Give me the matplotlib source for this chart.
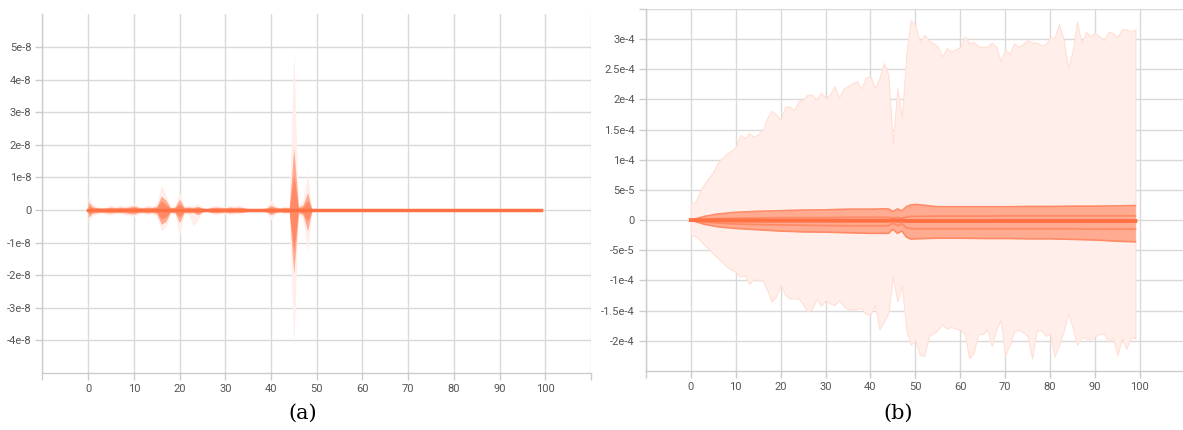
import numpy as np
import matplotlib
matplotlib.use('Agg')
import matplotlib.pyplot as plt

# ---- panel (a): per-step percentiles, units of 1e-8 ----
UNIT_A = 1e-8
steps_a = list(range(50)) + [99]
a_max = [0.45, 0.18, 0.10, 0.08, 0.10, 0.15, 0.10, 0.15, 0.12, 0.15,
         0.20, 0.12, 0.10, 0.15, 0.12, 0.20, 0.77, 0.48, 0.10, 0.15,
         0.55, 0.12, 0.15, 0.12, 0.20, 0.08, 0.05, 0.12, 0.15, 0.12,
         0.10, 0.15, 0.12, 0.15, 0.10, 0.05, 0.03, 0.03, 0.05, 0.08,
         0.30, 0.12, 0.08, 0.12, 0.10, 4.86, 0.15, 0.30, 1.15, 0.0, 0.0]
a_p93 = [0.25, 0.10, 0.07, 0.06, 0.07, 0.09, 0.07, 0.09, 0.08, 0.09,
         0.13, 0.08, 0.07, 0.09, 0.08, 0.11, 0.43, 0.30, 0.07, 0.09,
         0.33, 0.08, 0.09, 0.08, 0.11, 0.06, 0.04, 0.08, 0.09, 0.08,
         0.07, 0.09, 0.08, 0.09, 0.07, 0.04, 0.03, 0.03, 0.04, 0.06,
         0.15, 0.08, 0.06, 0.08, 0.07, 1.91, 0.09, 0.15, 0.53, 0.0, 0.0]
a_p84 = [0.14, 0.06, 0.05, 0.04, 0.05, 0.06, 0.05, 0.06, 0.05, 0.06,
         0.08, 0.05, 0.05, 0.06, 0.05, 0.07, 0.28, 0.17, 0.05, 0.06,
         0.20, 0.05, 0.06, 0.05, 0.07, 0.04, 0.03, 0.05, 0.06, 0.05,
         0.05, 0.06, 0.05, 0.06, 0.05, 0.03, 0.02, 0.02, 0.03, 0.04,
         0.09, 0.05, 0.04, 0.05, 0.04, 1.09, 0.05, 0.09, 0.30, 0.0, 0.0]
a_p16 = [-0.12, -0.06, -0.05, -0.04, -0.05, -0.06, -0.05, -0.05, -0.05, -0.06,
         -0.08, -0.05, -0.05, -0.06, -0.05, -0.07, -0.28, -0.22, -0.05, -0.06,
         -0.22, -0.05, -0.06, -0.05, -0.09, -0.04, -0.03, -0.05, -0.06, -0.05,
         -0.05, -0.06, -0.05, -0.05, -0.05, -0.03, -0.02, -0.02, -0.03, -0.04,
         -0.09, -0.05, -0.04, -0.05, -0.04, -1.26, -0.05, -0.09, -0.35, 0.0, 0.0]
a_p7 = [-0.22, -0.10, -0.08, -0.07, -0.09, -0.09, -0.08, -0.08, -0.09, -0.11,
        -0.13, -0.08, -0.08, -0.09, -0.08, -0.11, -0.44, -0.35, -0.07, -0.09,
        -0.39, -0.08, -0.09, -0.08, -0.15, -0.06, -0.04, -0.08, -0.09, -0.08,
        -0.07, -0.09, -0.08, -0.08, -0.07, -0.04, -0.03, -0.03, -0.04, -0.06,
        -0.15, -0.08, -0.06, -0.08, -0.07, -1.95, -0.09, -0.15, -0.64, 0.0, 0.0]
a_min = [-0.39, -0.18, -0.12, -0.10, -0.15, -0.15, -0.12, -0.12, -0.15, -0.18,
         -0.21, -0.12, -0.12, -0.15, -0.12, -0.20, -0.64, -0.54, -0.10, -0.15,
         -0.80, -0.12, -0.15, -0.50, -0.30, -0.08, -0.05, -0.12, -0.15, -0.12,
         -0.10, -0.15, -0.12, -0.12, -0.10, -0.05, -0.03, -0.03, -0.05, -0.08,
         -0.30, -0.12, -0.08, -0.12, -0.10, -4.17, -0.15, -0.30, -1.26, 0.0, 0.0]

# ---- panel (b): min/max per step, units of 1e-4 ----
UNIT_B_OUTER = 1e-4
steps_b = list(range(100))
b_max = [0.28, 0.30, 0.47, 0.60, 0.70, 0.80, 0.95, 1.03, 1.10, 1.15,
         1.21, 1.41, 1.36, 1.44, 1.38, 1.42, 1.49, 1.69, 1.81, 1.75,
         1.66, 1.88, 1.88, 1.82, 1.97, 2.00, 2.08, 2.08, 1.99, 2.11,
         2.02, 2.08, 2.22, 2.03, 2.18, 2.22, 2.27, 2.30, 2.18, 2.36,
         2.38, 2.19, 2.35, 2.60, 2.40, 1.27, 2.18, 1.70, 2.76, 3.31,
         3.23, 2.95, 3.07, 2.98, 2.93, 2.87, 2.71, 2.85, 2.79, 2.83,
         2.87, 3.04, 2.93, 2.95, 2.88, 2.87, 2.87, 2.94, 2.87, 2.63,
         2.83, 2.75, 2.93, 2.87, 2.92, 2.98, 2.94, 2.94, 2.90, 2.91,
         3.02, 3.02, 3.25, 3.00, 2.52, 2.79, 3.29, 2.93, 3.12, 3.05,
         3.10, 3.04, 2.98, 3.12, 3.10, 3.03, 3.16, 3.16, 3.12, 3.16]
b_min = [-0.25, -0.27, -0.33, -0.41, -0.48, -0.56, -0.63, -0.70, -0.77, -0.82,
         -0.86, -0.94, -0.91, -1.06, -0.98, -1.00, -1.00, -1.16, -1.35, -1.27,
         -1.08, -1.24, -1.30, -1.30, -1.30, -1.40, -1.51, -1.47, -1.30, -1.42,
         -1.33, -1.38, -1.41, -1.33, -1.42, -1.48, -1.48, -1.48, -1.45, -1.56,
         -1.56, -1.41, -1.81, -1.68, -1.55, -0.94, -1.35, -1.08, -1.82, -2.07,
         -1.99, -2.24, -2.25, -1.92, -1.88, -1.82, -1.73, -1.80, -1.77, -1.80,
         -1.82, -1.88, -2.29, -2.20, -1.89, -1.89, -1.81, -2.09, -1.82, -1.66,
         -2.24, -2.07, -1.85, -1.82, -1.86, -1.92, -2.29, -1.84, -1.82, -1.92,
         -1.88, -2.26, -2.07, -1.85, -1.55, -1.77, -2.07, -1.94, -1.96, -1.98,
         -1.93, -1.89, -1.88, -2.02, -1.94, -2.24, -1.96, -2.13, -1.94, -1.96]

# inner percentiles of (b), units of 1e-5
UNIT_B_INNER = 1e-5
steps_b_in = [0, 3, 6, 10, 15, 20, 25, 30, 35, 40, 43, 44, 45, 46, 47, 48, 49,
              50, 55, 60, 65, 70, 75, 80, 85, 90, 95, 99]
b_p93 = [0, 0.6, 1.0, 1.28, 1.45, 1.55, 1.65, 1.70, 1.80, 1.80, 1.85, 1.85,
         1.40, 1.85, 1.50, 2.20, 2.50, 2.60, 2.20, 2.20, 2.20, 2.20, 2.25,
         2.25, 2.30, 2.30, 2.35, 2.40]
b_p84 = [0, 0.15, 0.25, 0.30, 0.35, 0.40, 0.40, 0.40, 0.45, 0.45, 0.45, 0.45,
         0.30, 0.45, 0.30, 0.50, 0.60, 0.60, 0.65, 0.65, 0.65, 0.70, 0.70,
         0.70, 0.70, 0.70, 0.70, 0.70]
b_med = [0, -0.05, -0.05, -0.08, -0.10, -0.10, -0.10, -0.10, -0.12, -0.12,
         -0.12, -0.12, -0.05, -0.12, -0.08, -0.15, -0.15, -0.15, -0.15,
         -0.15, -0.15, -0.15, -0.15, -0.15, -0.15, -0.15, -0.15, -0.15]
b_p16 = [0, -0.30, -0.50, -0.65, -0.75, -0.80, -0.85, -0.90, -0.95, -0.95,
         -0.95, -0.95, -0.50, -0.95, -0.60, -1.30, -1.40, -1.45, -1.45, -1.45,
         -1.45, -1.45, -1.45, -1.45, -1.45, -1.50, -1.50, -1.50]
b_p7 = [0, -0.70, -1.10, -1.38, -1.60, -1.82, -1.95, -2.00, -2.10, -2.20,
        -2.20, -2.20, -1.50, -2.20, -1.80, -2.80, -3.15, -3.10, -3.00, -3.00,
        -3.05, -3.05, -3.10, -3.10, -3.20, -3.30, -3.50, -3.60]

a_yticks = [-4e-8, -3e-8, -2e-8, -1e-8, 0, 1e-8, 2e-8, 3e-8, 4e-8, 5e-8]
a_ylabels = ['-4e-8', '-3e-8', '-2e-8', '-1e-8', '0', '1e-8', '2e-8', '3e-8', '4e-8', '5e-8']
b_yticks = [-2e-4, -1.5e-4, -1e-4, -5e-5, 0, 5e-5, 1e-4, 1.5e-4, 2e-4, 2.5e-4, 3e-4, 3.5e-4]
b_ylabels = ['-2e-4', '-1.5e-4', '-1e-4', '-5e-5', '0', '5e-5', '1e-4', '1.5e-4',
             '2e-4', '2.5e-4', '3e-4', '']
xticks = list(range(-10, 111, 10))
xlabels = ['' if t < 0 or t > 100 else str(t) for t in xticks]

ORANGE = '#ff7043'
LIGHT = '#ffeee9'
MID = '#ffab91'
DARK = '#ff8a65'
GRID = '#d9d9d9'


def style_axes(ax, yticks, ylabels, ylim):
    ax.set_xlim(-10, 110)
    ax.set_ylim(*ylim)
    ax.set_xticks(xticks)
    ax.set_xticklabels(xlabels)
    ax.set_yticks(yticks)
    ax.set_yticklabels(ylabels)
    ax.grid(True, color=GRID, lw=1.0)
    ax.set_axisbelow(True)
    for s in ['top', 'right']:
        ax.spines[s].set_visible(False)
    for s in ['left', 'bottom']:
        ax.spines[s].set_color('#cccccc')
        ax.spines[s].set_linewidth(1.0)
    ax.tick_params(axis='both', length=5, width=1.0, color='#cccccc',
                   labelsize=8, labelcolor='#555555', pad=3)
    for lbl in ax.get_xticklabels() + ax.get_yticklabels():
        lbl.set_family('Roboto')


fig = plt.figure(figsize=(11.83, 4.30), dpi=100)

# panel (a)
ax1 = fig.add_axes([0.0359, 0.1326, 0.4636, 0.834])
sa = np.array(steps_a)
ax1.fill_between(sa, np.array(a_min) * UNIT_A, np.array(a_max) * UNIT_A,
                 color=LIGHT, lw=0)
ax1.fill_between(sa, np.array(a_p7) * UNIT_A, np.array(a_p93) * UNIT_A,
                 color=MID, lw=0)
ax1.fill_between(sa, np.array(a_p16) * UNIT_A, np.array(a_p84) * UNIT_A,
                 color=DARK, lw=0)
ax1.plot(sa, np.zeros(len(sa)), color=ORANGE, lw=2.5)
style_axes(ax1, a_yticks, a_ylabels, (-5e-8, 6e-8))

# panel (b)
ax2 = fig.add_axes([0.546, 0.1374, 0.4555, 0.842])
sb = np.array(steps_b)
si = np.array(steps_b_in)
ax2.fill_between(sb, np.array(b_min) * UNIT_B_OUTER, np.array(b_max) * UNIT_B_OUTER,
                 color=LIGHT, lw=0.8, edgecolor='#ffe0d6')
ax2.fill_between(si, np.array(b_p7) * UNIT_B_INNER, np.array(b_p93) * UNIT_B_INNER,
                 color=MID, lw=0)
for arr in (b_p7, b_p93):
    ax2.plot(si, np.array(arr) * UNIT_B_INNER, color=DARK, lw=1.2)
for arr in (b_p16, b_p84):
    ax2.plot(si, np.array(arr) * UNIT_B_INNER, color=DARK, lw=1.3)
ax2.plot(si, np.array(b_med) * UNIT_B_INNER, color=ORANGE, lw=2.8)
style_axes(ax2, b_yticks, b_ylabels, (-2.5e-4, 3.5e-4))

fig.text(0.256, 0.040, '(a)', ha='center', va='center', fontsize=15,
         family='DejaVu Serif')
fig.text(0.759, 0.040, '(b)', ha='center', va='center', fontsize=15,
         family='DejaVu Serif')

fig.savefig('out.png', dpi=100)
